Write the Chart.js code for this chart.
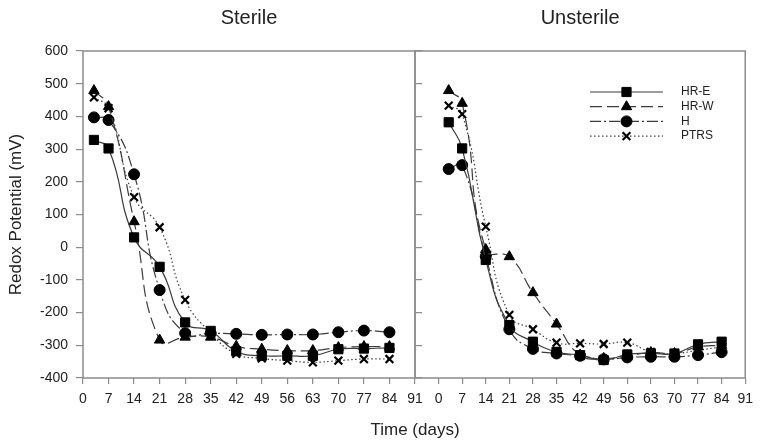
<!DOCTYPE html>
<html>
<head>
<meta charset="utf-8">
<script src="https://cdn.jsdelivr.net/npm/chart.js@4.4.1/dist/chart.umd.min.js"></script>
<style>
  html, body { margin: 0; padding: 0; background: #fff; }
  #wrap { position: relative; width: 760px; height: 441px; }
  #wrap canvas { position: absolute; left: 0; top: 0; }
</style>
</head>
<body>
<div id="wrap">
  <canvas id="sterile" width="760" height="441"></canvas>
  <canvas id="unsterile" width="760" height="441"></canvas>
</div>
<script>
// Jours de mesure et graduations
const days = [3, 7, 14, 21, 28, 35, 42, 49, 56, 63, 70, 77, 84];
const xTicks = [0, 7, 14, 21, 28, 35, 42, 49, 56, 63, 70, 77, 84, 91];
const yTicks = [-400, -300, -200, -100, 0, 100, 200, 300, 400, 500, 600];
const seriesNames = ['HR-E', 'HR-W', 'H', 'PTRS'];

// Panneau "Sterile" (mV)
const sterileHRE  = [328, 302, 30, -60, -230, -256, -318, -332, -332, -332, -312, -310, -308];
const sterileHRW  = [479, 430, 78, -284, -275, -275, -303, -312, -316, -316, -307, -304, -304];
const sterileH    = [397, 389, 223, -131, -263, -263, -265, -268, -267, -267, -260, -255, -260];
const sterilePTRS = [458, 425, 153, 61, -161, -262, -326, -340, -347, -352, -347, -342, -342];

// Panneau "Unsterile" (mV)
const unsterileHRE  = [382, 302, -39, -238, -289, -320, -330, -345, -328, -325, -325, -297, -289];
const unsterileHRW  = [479, 440, -7, -29, -139, -235, -330, -340, -332, -322, -325, -305, -300];
const unsterileH    = [239, 251, -28, -251, -311, -325, -332, -343, -337, -335, -335, -330, -321];
const unsterilePTRS = [433, 407, 63, -207, -251, -292, -294, -296, -292, -320, -325, -315, -305];

const police = '"Liberation Sans", Arial, sans-serif';
const gris = '#8c8c8c';

// style de chaque série (trait + symbole)
const styles = [
  { pointStyle: 'rect', pointRadius: 6.5, borderDash: [] },
  { pointStyle: 'triangle', pointRadius: 6, borderDash: [12, 5] },
  { pointStyle: 'circle', pointRadius: 5.5, borderDash: [11, 3, 2, 3] },
  { pointStyle: 'crossRot', pointRadius: 5.5, borderDash: [1.5, 2.5], pointBorderWidth: 2.2 }
];

function datasets(series) {
  return series.map((values, i) => Object.assign({
    label: seriesNames[i],
    data: days.map((d, k) => ({ x: d, y: values[k] })),
    borderColor: '#3c3c3c',
    borderWidth: 1.2,
    pointBackgroundColor: '#000',
    pointBorderColor: '#000',
    pointBorderWidth: 1,
    tension: 0.5,
    fill: false
  }, styles[i]));
}

// cadre gris + titre du panneau
const cadre = {
  id: 'cadre',
  afterDraw(chart, args, opts) {
    const { ctx, chartArea: a } = chart;
    ctx.save();
    ctx.strokeStyle = gris;
    ctx.lineWidth = 1.5;
    ctx.strokeRect(a.left, a.top, a.right - a.left, a.bottom - a.top);
    ctx.fillStyle = '#222';
    ctx.textAlign = 'center';
    ctx.textBaseline = 'alphabetic';
    ctx.font = '20px ' + police;
    ctx.fillText(opts.titre, (a.left + a.right) / 2, 24);
    if (opts.axeX) {
      ctx.font = '17px ' + police;
      ctx.fillText(opts.axeX, a.right, 435);
    }
    ctx.restore();
  }
};

// légende : trait + symbole + nom
const legende = {
  id: 'legende',
  afterDraw(chart, args, opts) {
    if (!opts.display) return;
    const { ctx, chartArea: a } = chart;
    const x0 = a.left + 175, x1 = a.left + 248, xm = (x0 + x1) / 2;
    const drawPoint = Chart.helpers && Chart.helpers.drawPoint;
    chart.data.datasets.forEach((ds, i) => {
      const y = a.top + 41 + i * 14.7;
      ctx.save();
      ctx.strokeStyle = ds.borderColor;
      ctx.lineWidth = ds.borderWidth;
      ctx.setLineDash(ds.borderDash);
      ctx.beginPath();
      ctx.moveTo(x0, y);
      ctx.lineTo(x1, y);
      ctx.stroke();
      ctx.setLineDash([]);
      if (drawPoint) {
        ctx.fillStyle = ds.pointBackgroundColor;
        ctx.strokeStyle = ds.pointBorderColor;
        ctx.lineWidth = ds.pointBorderWidth;
        drawPoint(ctx, { pointStyle: ds.pointStyle, radius: ds.pointRadius, rotation: 0, borderWidth: ds.pointBorderWidth }, xm, y);
      }
      ctx.fillStyle = '#222';
      ctx.font = '12px ' + police;
      ctx.textAlign = 'left';
      ctx.textBaseline = 'middle';
      ctx.fillText(ds.label, a.left + 266, y);
      ctx.restore();
    });
  }
};

function axeX(min) {
  return {
    type: 'linear', min: min, max: 91,
    afterBuildTicks: s => { s.ticks = xTicks.map(v => ({ value: v })); },
    afterFit: s => { s.height = 63; },
    ticks: { color: '#222', font: { family: police, size: 14 }, padding: 7, maxRotation: 0, autoSkip: false },
    grid: { drawOnChartArea: false, tickLength: 6, color: gris, lineWidth: 1.2 },
    border: { display: false }
  };
}

const commun = {
  animation: false,
  responsive: false,
  events: []
};

new Chart(document.getElementById('sterile'), {
  type: 'line',
  data: { datasets: datasets([sterileHRE, sterileHRW, sterileH, sterilePTRS]) },
  plugins: [cadre, legende],
  options: Object.assign({}, commun, {
    layout: { padding: { left: 0, right: 337, top: 51, bottom: 0 } },
    scales: {
      x: axeX(0),
      y: {
        type: 'linear', min: -400, max: 600,
        afterBuildTicks: s => { s.ticks = yTicks.map(v => ({ value: v })); },
        afterFit: s => { s.width = 83; },
        ticks: { color: '#222', font: { family: police, size: 14 }, padding: 8 },
        grid: { drawOnChartArea: false, tickLength: 7, color: gris, lineWidth: 1.2 },
        border: { display: false },
        title: { display: true, text: 'Redox Potential (mV)', color: '#222', font: { family: police, size: 17 }, padding: { top: 6, bottom: 0 } }
      },
      yR: {
        type: 'linear', position: 'right', min: -400, max: 600,
        afterBuildTicks: s => { s.ticks = yTicks.map(v => ({ value: v })); },
        afterFit: s => { s.width = 8; },
        ticks: { display: false },
        grid: { drawOnChartArea: false, tickLength: 7, color: gris, lineWidth: 1.2 },
        border: { display: false }
      }
    },
    plugins: {
      legend: { display: false },
      tooltip: { enabled: false },
      cadre: { titre: 'Sterile', axeX: 'Time (days)' },
      legende: { display: false }
    }
  })
});

new Chart(document.getElementById('unsterile'), {
  type: 'line',
  data: { datasets: datasets([unsterileHRE, unsterileHRW, unsterileH, unsterilePTRS]) },
  plugins: [cadre, legende],
  options: Object.assign({}, commun, {
    layout: { padding: { left: 415, right: 10, top: 51, bottom: 0 } },
    scales: {
      x: axeX(-7),
      y: { type: 'linear', min: -400, max: 600, display: false }
    },
    plugins: {
      legend: { display: false },
      tooltip: { enabled: false },
      cadre: { titre: 'Unsterile' },
      legende: { display: true }
    }
  })
});
</script>
</body>
</html>
